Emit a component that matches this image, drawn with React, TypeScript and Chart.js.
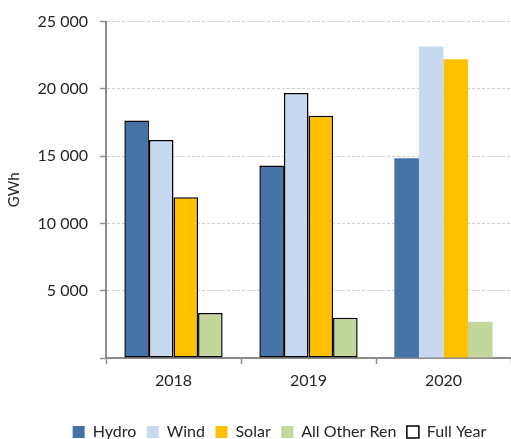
import React, { useEffect, useRef } from 'react';
import { Chart, registerables } from 'chart.js';

Chart.register(...registerables);

const categories = ['2018', '2019', '2020'];
const hydro = [17650, 14300, 14850];
const wind = [16200, 19700, 23150];
const solar = [11950, 18000, 22200];
const otherRen = [3350, 3000, 2700];
const seriesNames = ['Hydro', 'Wind', 'Solar', 'All Other Ren'];
const seriesColors = ['#4572A7', '#C6D9F1', '#FFC000', '#C3D69B'];
const fullYearLabel = 'Full Year';
const isFullYear = [true, true, false];
const yTicks = [0, 5000, 10000, 15000, 20000, 25000];
const yTitle = 'GWh';

const FONT = 'Lato, "Open Sans", sans-serif';
const TEXT = '#262626';
const AXIS = '#8C8C8C';
const GRID = '#CFCFCF';

// layout tuning
const W = 511;
const H = 439;
const Y_AXIS_WIDTH = 106;
const PLOT_BOTTOM = 358;
const LEGEND_DX = 24;
const LEGEND_TEXT_Y = 432;

const fmt = (v: number) =>
  v === 0 ? '' : String(v).replace(/\B(?=(\d{3})+(?!\d))/g, ' ');

export default function App() {
  const ref = useRef<HTMLCanvasElement | null>(null);

  useEffect(() => {
    if (!ref.current) return;
    const seriesValues = [hydro, wind, solar, otherRen];
    const legendPadding = 10.5;
    const legendFont = 16;

    const shiftLegend = {
      id: 'shiftLegend',
      afterLayout(chart: any) {
        const l = chart.legend;
        if (!l) return;
        l.left += LEGEND_DX;
        l.right += LEGEND_DX;
        const newTop = LEGEND_TEXT_Y - legendFont / 2 - legendPadding;
        const dy = newTop - l.top;
        l.top += dy;
        l.bottom += dy;
      },
    };

    const chart = new Chart(ref.current, {
      type: 'bar',
      data: {
        labels: categories,
        datasets: seriesValues.map((vals, i) => ({
          label: seriesNames[i],
          data: vals,
          backgroundColor: seriesColors[i],
          borderColor: '#000000',
          borderWidth: isFullYear.map((f) => (f ? 1.5 : 0)),
          borderSkipped: false,
          categoryPercentage: 0.728,
          barPercentage: 1,
        })),
      },
      options: {
        responsive: false,
        animation: false,
        devicePixelRatio: 1,
        layout: { padding: { top: 21, left: 0, right: 0, bottom: 0 } },
        plugins: {
          tooltip: { enabled: false },
          legend: {
            position: 'bottom',
            labels: {
              font: { family: FONT, size: legendFont },
              color: TEXT,
              boxWidth: 12,
              boxHeight: 12,
              padding: legendPadding,
              generateLabels: (c: any) => {
                const items: any[] = c.data.datasets.map((ds: any, i: number) => ({
                  text: ds.label,
                  fillStyle: ds.backgroundColor,
                  strokeStyle: ds.backgroundColor,
                  lineWidth: 0,
                  hidden: false,
                  datasetIndex: i,
                  fontColor: TEXT,
                }));
                items.push({
                  text: fullYearLabel,
                  fillStyle: '#FFFFFF',
                  strokeStyle: '#000000',
                  lineWidth: 1.5,
                  hidden: false,
                  fontColor: TEXT,
                });
                return items;
              },
            },
          },
        },
        scales: {
          x: {
            offset: true,
            grid: {
              offset: true,
              drawOnChartArea: false,
              drawTicks: true,
              tickLength: 6,
              tickColor: AXIS,
              tickWidth: 1.5,
            },
            border: { display: true, color: AXIS, width: 2 },
            ticks: {
              font: { family: FONT, size: 16 },
              color: TEXT,
              padding: 7,
            },
            afterFit: (scale: any) => {
              const lh = scale.chart.legend ? scale.chart.legend.height : 0;
              scale.height = Math.max(0, H - PLOT_BOTTOM - lh);
            },
          },
          y: {
            min: 0,
            max: 25000,
            afterBuildTicks: (scale: any) => {
              scale.ticks = yTicks.map((v) => ({ value: v }));
            },
            grid: {
              color: GRID,
              lineWidth: 1,
              drawTicks: true,
              tickLength: 6,
              tickColor: AXIS,
              tickWidth: 1.5,
              tickBorderDash: [],
            },
            border: { display: true, color: AXIS, width: 2, dash: [3, 2] },
            ticks: {
              font: { family: FONT, size: 16 },
              color: TEXT,
              padding: 12,
              callback: (v: any) => fmt(Number(v)),
            },
            title: {
              display: true,
              text: yTitle,
              font: { family: FONT, size: 15 },
              color: TEXT,
              padding: { top: 5, bottom: 0 },
            },
            afterFit: (scale: any) => {
              scale.width = Y_AXIS_WIDTH;
            },
          },
        },
      },
      plugins: [shiftLegend],
    });
    return () => chart.destroy();
  }, []);

  return (
    <div style={{ position: 'fixed', left: 0, top: 0, width: W, height: H, background: '#fff' }}>
      <canvas ref={ref} width={W} height={H} style={{ display: 'block', width: W, height: H }} />
    </div>
  );
}
